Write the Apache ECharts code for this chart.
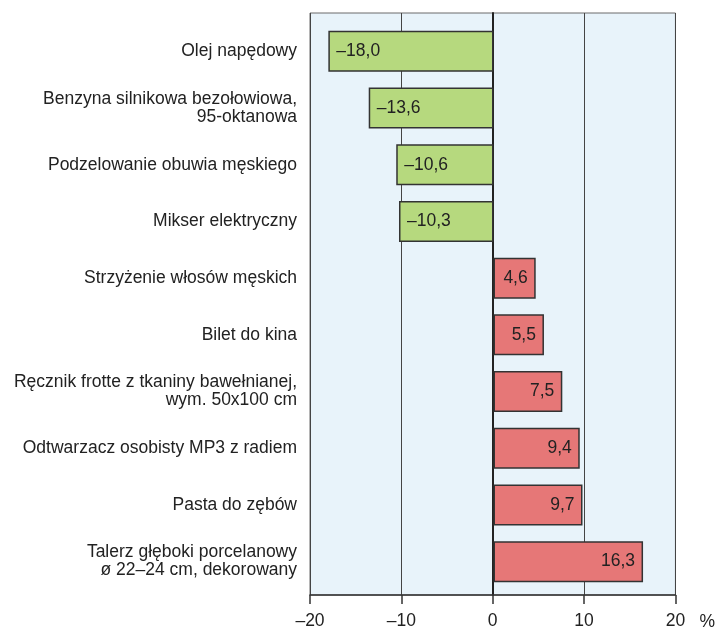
<!DOCTYPE html>
<html>
<head>
<meta charset="utf-8">
<script src="https://cdn.jsdelivr.net/npm/echarts@6/dist/echarts.min.js"></script>
<style>
  html, body { margin: 0; padding: 0; background: #fff; }
  #chart { width: 718px; height: 633px; }
</style>
</head>
<body>
<div id="chart"></div>
<script>
// kategorie (od góry do dołu)
var categories = [
  'Olej napędowy',
  'Benzyna silnikowa bezołowiowa,\n95-oktanowa',
  'Podzelowanie obuwia męskiego',
  'Mikser elektryczny',
  'Strzyżenie włosów męskich',
  'Bilet do kina',
  'Ręcznik frotte z tkaniny bawełnianej,\nwym. 50x100 cm',
  'Odtwarzacz osobisty MP3 z radiem',
  'Pasta do zębów',
  'Talerz głęboki porcelanowy\nø 22–24 cm, dekorowany'
]
// zmiana cen w %
var values = [-18.0, -13.6, -10.6, -10.3, 4.6, 5.5, 7.5, 9.4, 9.7, 16.3]
var xTicks = [-20, -10, 0, 10, 20]

var FONT = 'Liberation Sans, Arial, sans-serif'
var GREEN = '#b6d97e'
var RED = '#e67777'

function fmt(v) {
  var s = Math.abs(v).toFixed(1).replace('.', ',')
  return v < 0 ? '\u2013' + s : s
}

var chart = echarts.init(document.getElementById('chart'))

var option = {
  animation: false,
  grid: [
    // tło + oś X
    {left: 310, right: 41, top: 13, bottom: 38, show: true,
      backgroundColor: '#e8f3fa', borderColor: '#6a6a6a', borderWidth: 1},
    // słupki
    {left: 310, right: 41, top: 23, bottom: 43}
  ],
  xAxis: [
    {
      gridIndex: 0, type: 'value', min: xTicks[0], max: xTicks[xTicks.length - 1], interval: 10,
      name: '%', nameLocation: 'end', nameGap: 24,
      nameTextStyle: {color: '#222', fontSize: 17.5, fontFamily: FONT, verticalAlign: 'top', padding: [18, 0, 0, 0]},
      axisLine: {show: true, onZero: false, lineStyle: {color: '#333', width: 1.5}},
      axisTick: {show: true, length: 9, lineStyle: {color: '#333', width: 1.5}},
      axisLabel: {color: '#222', fontSize: 17.5, fontFamily: FONT, margin: 17,
        formatter: function (v) { return v < 0 ? '\u2013' + Math.abs(v) : String(v) }},
      splitLine: {show: true, lineStyle: {color: '#444', width: 1}}
    },
    {gridIndex: 1, type: 'value', min: -20, max: 20, show: false}
  ],
  yAxis: [
    {
      gridIndex: 0, type: 'value', min: 0, max: 1,
      axisLine: {show: true, onZero: true, lineStyle: {color: '#222', width: 2}},
      axisTick: {show: false}, axisLabel: {show: false}, splitLine: {show: false}
    },
    {
      gridIndex: 1, type: 'category', data: categories, inverse: true,
      axisLine: {show: false}, axisTick: {show: false}, splitLine: {show: false},
      axisLabel: {color: '#222', fontSize: 17.5, fontFamily: FONT, margin: 13, align: 'right', lineHeight: 18}
    }
  ],
  series: [
    {
      type: 'bar',
      xAxisIndex: 1,
      yAxisIndex: 1,
      barWidth: 41,
      data: values.map(function (v) {
        return {
          value: v,
          itemStyle: {color: v < 0 ? GREEN : RED},
          label: {position: v < 0 ? 'insideLeft' : 'insideRight'}
        }
      }),
      itemStyle: {borderColor: '#333', borderWidth: 1.5},
      label: {
        show: true, color: '#222', fontSize: 17.5, fontFamily: FONT, distance: 8,
        formatter: function (p) { return fmt(p.value) }
      }
    }
  ]
}

chart.setOption(option)
</script>
</body>
</html>
